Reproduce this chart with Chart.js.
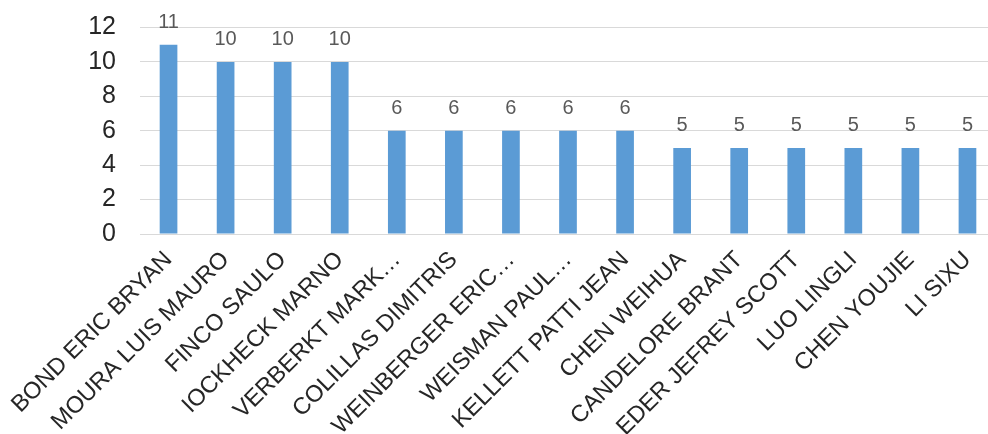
<!DOCTYPE html>
<html>
<head>
<meta charset="utf-8">
<script src="https://cdn.jsdelivr.net/npm/chart.js@4/dist/chart.umd.min.js"></script>
<style>
  html, body { margin: 0; padding: 0; background: #fff; overflow: hidden; }
  #wrap { width: 998px; height: 443px; margin-top: -9px; }
</style>
</head>
<body>
<div id="wrap"><canvas id="chart" width="998" height="443"></canvas></div>
<script>
const names = [
  "BOND ERIC BRYAN", "MOURA LUIS MAURO", "FINCO SAULO", "IOCKHECK MARNO",
  "VERBERKT MARK…", "COLILLAS DIMITRIS", "WEINBERGER ERIC…", "WEISMAN PAUL…",
  "KELLETT PATTI JEAN", "CHEN WEIHUA", "CANDELORE BRANT", "EDER JEFREY SCOTT",
  "LUO LINGLI", "CHEN YOUJIE", "LI SIXU"
];
const counts = [11, 10, 10, 10, 6, 6, 6, 6, 6, 5, 5, 5, 5, 5, 5];
const yTicks = [0, 2, 4, 6, 8, 10, 12];

const FONT = "'Liberation Sans', Arial, sans-serif";

// value labels above each bar
const barLabels = {
  id: "barLabels",
  afterDatasetsDraw(chart) {
    const c = chart.ctx;
    const meta = chart.getDatasetMeta(0);
    c.save();
    c.font = "20px " + FONT;
    c.fillStyle = "#595959";
    c.textAlign = "center";
    c.textBaseline = "alphabetic";
    meta.data.forEach((bar, i) => {
      c.fillText(String(counts[i]), bar.x, bar.y - 17);
    });
    c.restore();
  }
};

new Chart(document.getElementById("chart").getContext("2d"), {
  type: "bar",
  data: {
    labels: names,
    datasets: [{
      data: counts,
      backgroundColor: "#5b9bd5",
      barPercentage: 1,
      categoryPercentage: 0.31
    }]
  },
  options: {
    responsive: false,
    animation: false,
    layout: { padding: { top: 0, right: 2, left: 0, bottom: 0 } },
    plugins: {
      legend: { display: false },
      tooltip: { enabled: false }
    },
    scales: {
      x: {
        grid: { display: false },
        border: { display: false },
        ticks: {
          autoSkip: false,
          minRotation: 45,
          maxRotation: 45,
          padding: 4,
          color: "#262626",
          font: { family: FONT, size: 23.5 }
        },
        afterFit(scale) { scale.height = 200; }
      },
      y: {
        min: 0,
        max: 12,
        afterBuildTicks(scale) { scale.ticks = yTicks.map(v => ({ value: v })); },
        grid: { color: "#d9d9d9", lineWidth: 1, drawTicks: false },
        border: { display: false },
        ticks: {
          autoSkip: false,
          padding: 24,
          color: "#262626",
          font: { family: FONT, size: 25, lineHeight: 1 }
        },
        afterFit(scale) { scale.width = 140; }
      }
    }
  },
  plugins: [barLabels]
});
</script>
</body>
</html>
